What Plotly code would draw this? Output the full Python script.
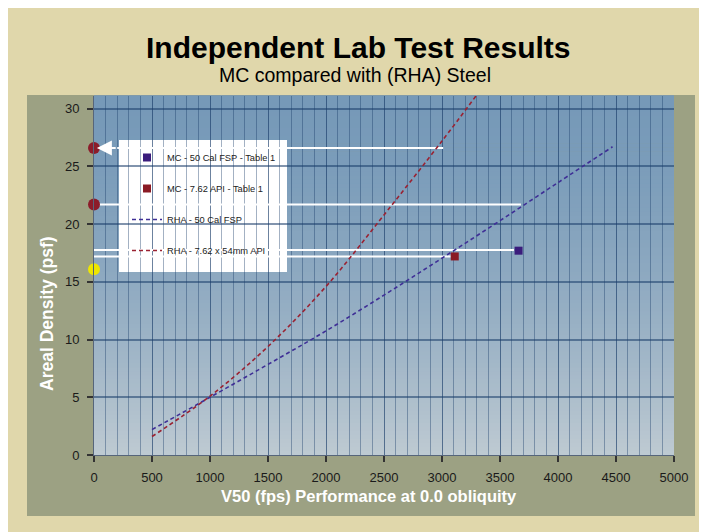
import plotly.graph_objects as go

# ---- data ----
rha50_x = [500, 1000, 1500, 2000, 2500, 3000, 3500, 4000, 4470]
rha50_y = [2.2, 5.0, 7.85, 10.75, 13.85, 17.05, 20.3, 23.6, 26.7]
rha762_x = [500, 1000, 1500, 2000, 2500, 3000, 3300]
rha762_y = [1.6, 5.1, 9.4, 14.6, 20.8, 27.2, 31.2]
mc50_x = [3660]
mc50_y = [17.7]
mc762_x = [3110]
mc762_y = [17.2]
ref_red_x = [0, 0]
ref_red_y = [26.6, 21.7]
ref_yel_x = [0]
ref_yel_y = [16.1]
# guide lines: (y, x_start, x_end)
guide_y = [26.6, 21.7, 17.75, 17.2]
guide_x0 = [200, 0, 0, 0]
guide_x1 = [3010, 3680, 3620, 3075]

x_ticks = list(range(0, 5001, 500))
y_ticks = list(range(0, 31, 5))

BLUE_LINE = "#3F2F96"
RED_LINE = "#9A2232"
BLUE_MK = "#3A1C7C"
RED_MK = "#8A1A24"
FONT = "Liberation Sans, Arial, sans-serif"


def px(X):
    return (X - 94) / 580


def py(Y):
    return (455 - Y) / 359


fig = go.Figure()

fig.add_trace(go.Scatter(x=mc50_x, y=mc50_y, mode="markers", name="MC - 50 Cal FSP - Table 1",
                         marker=dict(symbol="square", size=8, color=BLUE_MK), legendgroup="a"))
fig.add_trace(go.Scatter(x=mc762_x, y=mc762_y, mode="markers", name="MC - 7.62 API - Table 1",
                         marker=dict(symbol="square", size=8, color=RED_MK), legendgroup="b"))
fig.add_trace(go.Scatter(x=rha50_x, y=rha50_y, mode="lines", name="RHA - 50 Cal FSP",
                         line=dict(color=BLUE_LINE, width=1.6, dash="4px,3px", shape="spline"),
                         legendgroup="c"))
fig.add_trace(go.Scatter(x=rha762_x, y=rha762_y, mode="lines", name="RHA - 7.62 x 54mm API",
                         line=dict(color=RED_LINE, width=1.6, dash="4px,3px", shape="spline"),
                         legendgroup="d"))
fig.add_trace(go.Scatter(x=ref_red_x, y=ref_red_y, mode="markers", showlegend=False,
                         marker=dict(size=12, color="#8C1C2A"), cliponaxis=False))
fig.add_trace(go.Scatter(x=ref_yel_x, y=ref_yel_y, mode="markers", showlegend=False,
                         marker=dict(size=12, color="#EEE600"), cliponaxis=False))

shapes = []
# olive panel
shapes.append(dict(type="rect", xref="paper", yref="paper",
                   x0=px(27), x1=px(695), y0=py(516), y1=py(95),
                   fillcolor="#9CA183", line_width=0, layer="below"))

# gradient bands in plot area
top = (118, 153, 184)
bot = (190, 202, 210)
N = 90
for i in range(N):
    t = (i + 0.5) / N
    f = 1 - (1 - t) ** 1.6
    c = tuple(int(round(bot[k] + f * (top[k] - bot[k]))) for k in range(3))
    shapes.append(dict(type="rect", xref="x domain", yref="y domain",
                       x0=0, x1=1, y0=i / N, y1=(i + 1) / N + 0.002,
                       fillcolor="rgb(%d,%d,%d)" % c, line_width=0, layer="below"))

for y, x0, x1 in zip(guide_y, guide_x0, guide_x1):
    shapes.append(dict(type="line", xref="x", yref="y", x0=x0, x1=x1, y0=y, y1=y,
                       line=dict(color="white", width=2), layer="between"))
# legend box
shapes.append(dict(type="rect", xref="paper", yref="paper",
                   x0=px(119), x1=px(287), y0=py(272), y1=py(140),
                   fillcolor="white", line_width=0, layer="between"))

annotations = [
    dict(text="<b>Independent Lab Test Results</b>", xref="paper", yref="paper",
         x=px(358), y=py(47), xanchor="center", yanchor="middle", showarrow=False,
         font=dict(size=30, color="black", family=FONT)),
    dict(text="MC compared with (RHA) Steel", xref="paper", yref="paper",
         x=px(355), y=py(75), xanchor="center", yanchor="middle", showarrow=False,
         font=dict(size=19.5, color="black", family=FONT)),
    dict(text="<b>V50 (fps) Performance at 0.0 obliquity</b>", xref="paper", yref="paper",
         x=px(369), y=py(496), xanchor="center", yanchor="middle", showarrow=False,
         font=dict(size=16.5, color="white", family=FONT)),
    dict(text="<b>Areal Density (psf)</b>", xref="paper", yref="paper",
         x=px(47), y=py(314), xanchor="center", yanchor="middle", showarrow=False,
         textangle=-90, font=dict(size=17.5, color="white", family=FONT)),
    dict(text="", x=25, y=guide_y[0], ax=guide_x0[0], ay=guide_y[0], axref="x", ayref="y",
         xref="x", yref="y", showarrow=True, arrowhead=2, arrowsize=1.5, arrowwidth=2,
         arrowcolor="white"),
]

grid_c = "rgba(25,60,105,0.40)"
fig.update_layout(
    width=699, height=524,
    margin=dict(l=86, r=33, t=88, b=77),
    paper_bgcolor="#E0D7AB",
    plot_bgcolor="#90ABC2",
    font=dict(family=FONT, size=13, color="#1a1a1a"),
    shapes=shapes,
    annotations=annotations,
    showlegend=True,
    legend=dict(x=px(127), y=py(143), xanchor="left", yanchor="top",
                bgcolor="rgba(0,0,0,0)", borderwidth=0, tracegroupgap=12,
                traceorder="grouped", font=dict(size=9.3, color="#222", family=FONT)),
    xaxis=dict(range=[0, 5000], tickvals=x_ticks, ticks="outside", ticklen=6, tickwidth=1.5,
               tickcolor="#333", showgrid=True, gridcolor=grid_c, gridwidth=1.3,
               minor=dict(dtick=100, showgrid=True, gridcolor=grid_c, gridwidth=1.3),
               zeroline=False, showline=True, linecolor="#56657a", linewidth=1,
               ticklabelstandoff=4, tickfont=dict(size=13)),
    yaxis=dict(range=[0, 31.1], tickvals=y_ticks, ticks="outside", ticklen=6, tickwidth=1.5,
               tickcolor="#333", showgrid=True, gridcolor="rgba(25,60,105,0.55)", gridwidth=2,
               zeroline=False, showline=True, linecolor="#56657a", linewidth=1,
               ticklabelstandoff=5, tickfont=dict(size=13)),
)

fig.write_html("out.html")
